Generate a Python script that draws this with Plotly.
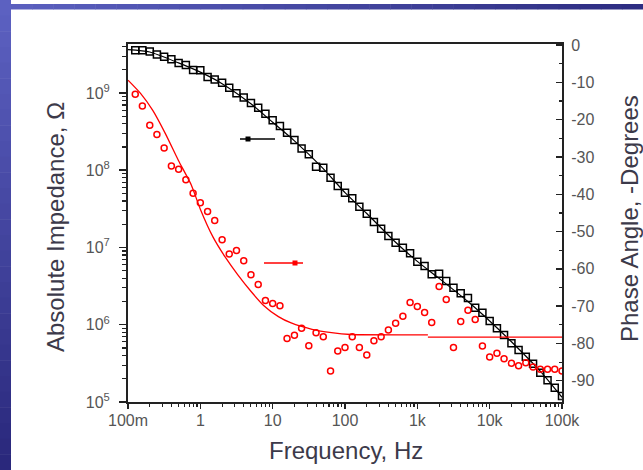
import plotly.graph_objects as go

# ---------------- data ----------------
freq_hz = [0.126, 0.158, 0.2, 0.251, 0.316, 0.398, 0.501, 0.631, 0.794, 1,
           1.26, 1.58, 2, 2.51, 3.16, 3.98, 5.01, 6.31, 7.94, 10,
           12.6, 15.8, 20, 25.1, 31.6, 39.8, 50.1, 63.1, 79.4, 100,
           126, 158, 200, 251, 316, 398, 501, 631, 794, 1000,
           1260, 1580, 2000, 2510, 3160, 3980, 5010, 6310, 7940, 10000,
           12600, 15800, 20000, 25100, 31600, 39800, 50100, 63100, 79400, 100000]

impedance_ohm = [3.57e9, 3.57e9, 3.44e9, 3.16e9, 2.95e9, 2.73e9, 2.44e9, 2.30e9, 1.99e9, 1.97e9,
                 1.61e9, 1.50e9, 1.36e9, 1.17e9, 9.91e8, 8.71e8, 7.43e8, 6.46e8, 5.40e8, 4.44e8,
                 3.74e8, 3.06e8, 2.47e8, 1.91e8, 1.61e8, 1.11e8, 1.08e8, 8.02e7, 6.25e7, 5.13e7,
                 4.34e7, 3.37e7, 2.74e7, 2.14e7, 1.75e7, 1.41e7, 1.15e7, 9.93e6, 8.41e6, 6.55e6,
                 5.75e6, 4.50e6, 4.58e6, 3.68e6, 3.02e6, 2.55e6, 2.22e6, 1.66e6, 1.43e6, 1.12e6,
                 8.99e5, 7.36e5, 5.75e5, 4.71e5, 3.86e5, 3.13e5, 2.40e5, 1.91e5, 1.53e5, 1.20e5]

phase_deg = [-13.2, -16.3, -21.5, -24.0, -27.6, -32.4, -33.3, -36.1, -39.7, -42.3,
             -44.6, -47.0, -52.2, -56.0, -55.1, -57.8, -61.6, -64.2, -68.5, -69.3,
             -69.9, -78.7, -77.8, -75.9, -80.6, -77.1, -78.2, -87.4, -82.0, -81.1,
             -78.2, -81.1, -83.1, -79.3, -78.2, -76.4, -74.6, -72.7, -69.0, -70.1,
             -71.7, -74.4, -64.7, -68.2, -81.1, -74.1, -71.1, -73.6, -80.7, -83.6,
             -82.6, -84.1, -85.3, -86.0, -85.2, -86.3, -86.9, -86.9, -86.9, -87.4]

fit_freq_hz = [0.1, 0.2, 0.5, 1, 2, 5, 10, 20, 50, 100, 200, 500,
               1000, 2000, 5000, 10000, 20000, 50000, 100000]
fit_impedance_ohm = [3.63e9, 3.39e9, 2.45e9, 1.86e9, 1.32e9, 7.24e8, 4.17e8, 2.40e8, 1.05e8,
                     5.13e7, 2.75e7, 1.17e7, 6.61e6, 3.98e6, 2.00e6, 1.12e6, 6.03e5, 2.51e5, 1.15e5]

# phase fit: low-frequency curve, then flat high-frequency part after a small step
phase_fit_freq_hz = [0.1, 0.15, 0.22, 0.33, 0.5, 0.75, 1.0, 1.5, 2.2, 3.3, 5, 7.5,
                     12, 18, 35, 65, 120, 1400]
phase_fit_deg = [-9.4, -13.0, -17.5, -23.8, -31.0, -37.5, -44.0, -51.5, -56.8, -61.6, -66.0, -69.8,
                 -72.8, -74.5, -76.2, -77.1, -77.6, -77.7]
phase_fit_hf_freq_hz = [1400, 100000]
phase_fit_hf_deg = [-78.3, -78.3]

x_tick_vals = [0.1, 1, 10, 100, 1000, 10000, 100000]
x_tick_text = ["100m", "1", "10", "100", "1k", "10k", "100k"]
y_tick_vals = [1e5, 1e6, 1e7, 1e8, 1e9]
y_tick_text = ["10<sup>5</sup>", "10<sup>6</sup>", "10<sup>7</sup>", "10<sup>8</sup>", "10<sup>9</sup>"]
y2_tick_vals = [0, -10, -20, -30, -40, -50, -60, -70, -80, -90]
y2_tick_text = ["0", "-10", "-20", "-30", "-40", "-50", "-60", "-70", "-80", "-90"]

# ---------------- figure ----------------
W, H = 643, 470
L, R, T, B = 128, 81, 44, 68
PW, PH = W - L - R, H - T - B

def px(xp):
    return (xp - L) / PW

def py(yp):
    return (H - B - yp) / PH

FONT = "Liberation Sans, Arial, sans-serif"
AX = "#222222"
TICKC = "#555555"
TICKFS = 16

fig = go.Figure()
fig.add_trace(go.Scatter(x=fit_freq_hz, y=fit_impedance_ohm, mode="lines",
                         line=dict(color="black", width=1.2, shape="spline", smoothing=0.6),
                         hoverinfo="skip"))
fig.add_trace(go.Scatter(x=freq_hz, y=impedance_ohm, mode="markers",
                         marker=dict(symbol="square-open", size=7, color="black",
                                     line=dict(width=1.5, color="black"))))
fig.add_trace(go.Scatter(x=phase_fit_freq_hz, y=phase_fit_deg, mode="lines", yaxis="y2",
                         line=dict(color="#ff0000", width=1.3, shape="spline", smoothing=0.5),
                         hoverinfo="skip"))
fig.add_trace(go.Scatter(x=phase_fit_hf_freq_hz, y=phase_fit_hf_deg, mode="lines", yaxis="y2",
                         line=dict(color="#ff0000", width=1.3), hoverinfo="skip"))
fig.add_trace(go.Scatter(x=freq_hz, y=phase_deg, mode="markers", yaxis="y2",
                         marker=dict(symbol="circle-open", size=6, color="#ff0000",
                                     line=dict(width=1.5, color="#ff0000"))))

minor_x = [m * 10 ** e for e in range(-1, 5) for m in range(2, 10)]
minor_y = [m * 10 ** e for e in range(5, 10) for m in range(2, 10)]

fig.update_layout(
    width=W, height=H, autosize=False,
    margin=dict(l=L, r=R, t=T, b=B, pad=0, autoexpand=False),
    paper_bgcolor="white", plot_bgcolor="white",
    showlegend=False,
    font=dict(family=FONT, size=TICKFS, color=TICKC),
    xaxis=dict(type="log", range=[-1, 5], tickmode="array", tickvals=x_tick_vals, ticktext=x_tick_text,
               ticks="outside", ticklen=5, tickwidth=1.5, tickcolor=AX, automargin=False,
               ticklabelstandoff=-2,
               showline=True, linewidth=2, linecolor=AX, mirror=True,
               showgrid=False, zeroline=False,
               tickfont=dict(family=FONT, size=TICKFS, color=TICKC),
               minor=dict(tickmode="array", tickvals=minor_x, ticks="outside", ticklen=3,
                          tickwidth=1.2, tickcolor=AX, showgrid=False)),
    yaxis=dict(type="log", range=[5, 9.634], tickmode="array", tickvals=y_tick_vals, ticktext=y_tick_text,
               ticks="outside", ticklen=7, tickwidth=1.5, tickcolor=AX, automargin=False,
               ticklabelstandoff=6,
               showline=True, linewidth=2, linecolor=AX, mirror=False,
               showgrid=False, zeroline=False,
               tickfont=dict(family=FONT, size=TICKFS, color=TICKC),
               minor=dict(tickmode="array", tickvals=minor_y, ticks="outside", ticklen=4,
                          tickwidth=1.2, tickcolor=AX, showgrid=False)),
    yaxis2=dict(overlaying="y", side="right", range=[-95.7, 0.3], tickmode="array",
                tickvals=y2_tick_vals, ticktext=y2_tick_text, automargin=False,
                ticks="inside", ticklen=6, tickwidth=1.5, tickcolor=AX,
                ticklabelstandoff=4,
                showline=True, linewidth=2, linecolor=AX,
                showgrid=False, zeroline=False,
                tickfont=dict(family=FONT, size=TICKFS, color=TICKC),
                minor=dict(tickmode="linear", tick0=0, dtick=5, ticks="inside", ticklen=3,
                           tickwidth=1.2, tickcolor=AX, showgrid=False)),
)

TITLEC = "#3c3a4a"
TITLEFS = 24
fig.add_annotation(text="Frequency, Hz", xref="paper", yref="paper", x=px(346), y=py(450),
                   showarrow=False, font=dict(family=FONT, size=TITLEFS, color=TITLEC),
                   xanchor="center", yanchor="middle")
fig.add_annotation(text="Absolute Impedance, \u03a9", xref="paper", yref="paper", x=px(55), y=py(227),
                   showarrow=False, textangle=-90, font=dict(family=FONT, size=TITLEFS, color=TITLEC),
                   xanchor="center", yanchor="middle")
fig.add_annotation(text="Phase Angle, -Degrees", xref="paper", yref="paper", x=px(629), y=py(219),
                   showarrow=False, textangle=-90, font=dict(family=FONT, size=TITLEFS, color=TITLEC),
                   xanchor="center", yanchor="middle")

shapes = []
# series-to-axis indicators
shapes.append(dict(type="line", xref="paper", yref="paper", x0=px(240), x1=px(275), y0=py(139), y1=py(139),
                   line=dict(color="black", width=1.5)))
shapes.append(dict(type="rect", xref="paper", yref="paper", x0=px(245.5), x1=px(250.5),
                   y0=py(141.5), y1=py(136.5), fillcolor="black", line=dict(width=0)))
shapes.append(dict(type="line", xref="paper", yref="paper", x0=px(264), x1=px(303), y0=py(263), y1=py(263),
                   line=dict(color="#ff0000", width=1.5)))
shapes.append(dict(type="rect", xref="paper", yref="paper", x0=px(292.5), x1=px(297.5),
                   y0=py(265.5), y1=py(260.5), fillcolor="#ff0000", line=dict(width=0)))

# blue slide frame (gradient built from thin strips)
def lerp(c1, c2, t):
    return "rgb(%d,%d,%d)" % tuple(round(a + (b - a) * t) for a, b in zip(c1, c2))

n = 30
for i in range(n):
    y0p = H * i / n
    y1p = H * (i + 1) / n + 0.5
    shapes.append(dict(type="rect", xref="paper", yref="paper", x0=px(0), x1=px(11),
                       y0=py(y0p), y1=py(y1p), fillcolor=lerp((92, 97, 193), (42, 40, 124), i / (n - 1)),
                       line=dict(width=0), layer="above"))
for i in range(n):
    x0p = 11 + (W - 11) * i / n
    x1p = 11 + (W - 11) * (i + 1) / n + 0.5
    shapes.append(dict(type="rect", xref="paper", yref="paper", x0=px(x0p), x1=px(x1p),
                       y0=py(4), y1=py(9.5), fillcolor=lerp((90, 95, 190), (45, 45, 130), i / (n - 1)),
                       line=dict(width=0), layer="above"))
fig.update_layout(shapes=shapes)

fig.write_html("out.html", config={"displayModeBar": False, "staticPlot": True},
               post_script="document.body.style.margin='0';document.body.style.overflow='hidden';")
